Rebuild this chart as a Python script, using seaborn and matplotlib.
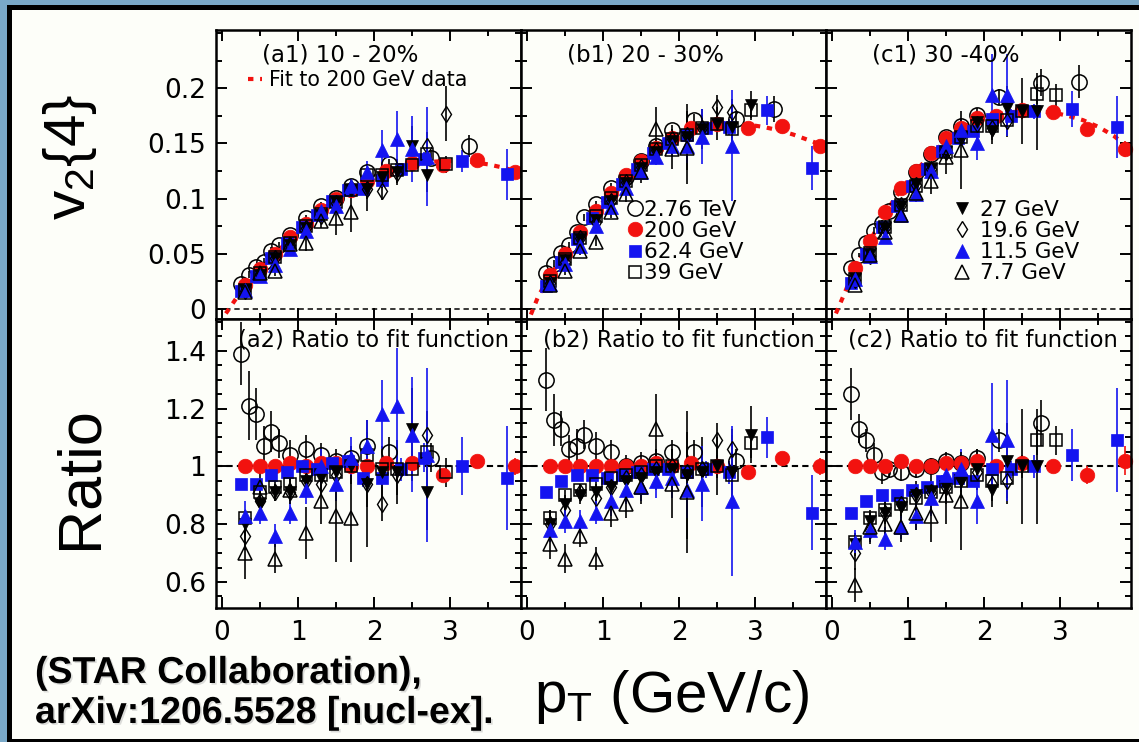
import numpy as np
import matplotlib
matplotlib.use("Agg")
import matplotlib.pyplot as plt
import matplotlib.patheffects as pe
from matplotlib.lines import Line2D
from matplotlib.patches import Rectangle
from matplotlib.ticker import MultipleLocator
import seaborn as sns

nan = np.nan

# ---- data (one inner list per centrality: 10-20, 20-30, 30-40 %) ----
panel_top = ["(a1) 10 - 20%", "(b1) 20 - 30%", "(c1) 30 -40%"]
panel_bot = ["(a2) Ratio to fit function", "(b2) Ratio to fit function", "(c2) Ratio to fit function"]

x_ticks = [0, 1, 2, 3]
x_tick_labels = ["0", "1", "2", "3"]
v2_ticks = [0, 0.05, 0.1, 0.15, 0.2]
v2_tick_labels = ["0", "0.05", "0.1", "0.15", "0.2"]
ratio_ticks = [0.6, 0.8, 1.0, 1.2, 1.4]
ratio_tick_labels = ["0.6", "0.8", "1", "1.2", "1.4"]

# fit to 200 GeV data
pt_fit = [0.05, 0.15, 0.3, 0.5, 0.7, 0.9, 1.1, 1.3, 1.5, 1.7, 1.9, 2.1, 2.3, 2.5, 2.7, 2.9, 3.1, 3.3, 3.5, 3.7, 3.9]
fit_v2 = [
    [-0.004, 0.006, 0.021, 0.036, 0.050, 0.064, 0.077, 0.089, 0.099, 0.108, 0.116, 0.122, 0.127, 0.131, 0.133, 0.134, 0.134, 0.133, 0.131, 0.128, 0.124],
    [-0.005, 0.012, 0.030, 0.050, 0.070, 0.089, 0.105, 0.120, 0.133, 0.145, 0.154, 0.161, 0.166, 0.168, 0.168, 0.167, 0.165, 0.162, 0.158, 0.153, 0.148],
    [-0.004, 0.012, 0.037, 0.062, 0.087, 0.108, 0.125, 0.140, 0.153, 0.164, 0.171, 0.175, 0.178, 0.179, 0.179, 0.178, 0.175, 0.171, 0.165, 0.157, 0.146],
]

# 2.76 TeV
pt_lhc = [0.25, 0.35, 0.45, 0.55, 0.65, 0.75, 0.9, 1.1, 1.3, 1.5, 1.7, 1.9, 2.2, 2.75, 3.25]
lhc_v2 = [
    [0.023, 0.031, 0.038, 0.043, 0.053, 0.058, 0.067, 0.082, 0.093, 0.101, 0.111, 0.124, 0.131, 0.137, 0.148],
    [0.033, 0.041, 0.051, 0.058, 0.070, 0.083, 0.095, 0.110, 0.120, 0.134, 0.148, 0.162, 0.171, 0.172, 0.181],
    [0.037, 0.049, 0.060, 0.071, 0.078, 0.089, 0.106, 0.124, 0.140, 0.156, 0.166, 0.176, 0.192, 0.205, 0.206],
]
lhc_v2_err = [
    [0.002, 0.003, 0.003, 0.003, 0.003, 0.003, 0.003, 0.003, 0.004, 0.004, 0.004, 0.005, 0.005, 0.007, 0.010],
    [0.002, 0.003, 0.003, 0.003, 0.003, 0.003, 0.003, 0.004, 0.004, 0.004, 0.005, 0.005, 0.006, 0.007, 0.012],
    [0.002, 0.002, 0.002, 0.003, 0.003, 0.003, 0.003, 0.004, 0.004, 0.005, 0.005, 0.006, 0.007, 0.012, 0.015],
]
lhc_ratio = [
    [1.39, 1.21, 1.18, 1.07, 1.12, 1.08, 1.04, 1.06, 1.04, 1.02, 1.03, 1.07, 1.05, 1.03, nan],
    [1.30, 1.16, 1.13, 1.06, 1.07, 1.11, 1.07, 1.05, 1.00, 1.01, 1.02, 1.05, 1.05, 1.02, nan],
    [1.25, 1.13, 1.09, 1.04, 0.98, 0.99, 0.98, 0.99, 1.00, 1.02, 1.01, 1.03, 1.09, 1.15, nan],
]
lhc_ratio_err = [
    [0.11, 0.12, 0.09, 0.07, 0.07, 0.05, 0.05, 0.05, 0.04, 0.04, 0.04, 0.05, 0.05, 0.05, nan],
    [0.11, 0.09, 0.06, 0.05, 0.06, 0.05, 0.05, 0.04, 0.04, 0.04, 0.04, 0.04, 0.04, 0.04, nan],
    [0.09, 0.05, 0.04, 0.04, 0.04, 0.03, 0.03, 0.03, 0.03, 0.03, 0.03, 0.03, 0.04, 0.08, nan],
]

# 200 GeV
pt_200 = [0.3, 0.5, 0.7, 0.9, 1.1, 1.3, 1.5, 1.7, 1.9, 2.15, 2.5, 2.9, 3.35, 3.85]
s200_v2 = [
    [0.022, 0.036, 0.050, 0.065, 0.077, 0.090, 0.100, 0.108, 0.116, 0.125, 0.132, 0.130, 0.135, 0.124],
    [0.031, 0.050, 0.070, 0.089, 0.105, 0.121, 0.134, 0.146, 0.155, 0.164, 0.168, 0.164, 0.166, 0.148],
    [0.037, 0.062, 0.088, 0.110, 0.125, 0.141, 0.155, 0.164, 0.173, 0.175, 0.180, 0.178, 0.163, 0.145],
]
s200_v2_err = [
    [0.001] * 11 + [0.002, 0.003, 0.004],
    [0.001] * 11 + [0.002, 0.003, 0.004],
    [0.001] * 11 + [0.002, 0.005, 0.007],
]
s200_ratio = [
    [1.0, 1.0, 1.0, 1.01, 1.0, 1.01, 1.01, 1.0, 1.0, 1.01, 1.01, 0.97, 1.02, 1.0],
    [1.0, 1.0, 1.0, 1.0, 1.0, 1.0, 1.0, 1.01, 1.0, 1.01, 1.0, 0.98, 1.03, 1.0],
    [1.0, 1.0, 1.0, 1.02, 1.0, 1.0, 1.01, 1.01, 1.02, 1.0, 1.01, 1.0, 0.97, 1.02],
]
s200_ratio_err = [
    [0.005] * 11 + [0.01, 0.02, 0.03],
    [0.005] * 11 + [0.01, 0.02, 0.03],
    [0.005] * 11 + [0.01, 0.03, 0.05],
]

# 62.4 GeV
pt_624 = [0.25, 0.45, 0.65, 0.85, 1.05, 1.25, 1.45, 1.65, 1.85, 2.1, 2.35, 2.65, 3.15, 3.75]
s624_v2 = [
    [0.016, 0.030, 0.046, 0.060, 0.074, 0.085, 0.098, 0.108, 0.109, 0.117, 0.127, 0.136, 0.134, 0.122],
    [0.021, 0.043, 0.063, 0.082, 0.097, 0.113, 0.127, 0.141, 0.150, 0.158, 0.164, 0.165, 0.180, 0.128],
    [0.024, 0.050, 0.074, 0.093, 0.111, 0.127, 0.143, 0.155, 0.161, 0.172, 0.175, 0.179, 0.181, 0.165],
]
s624_v2_err = [
    [0.001, 0.001, 0.001, 0.001, 0.001, 0.002, 0.002, 0.002, 0.003, 0.004, 0.005, 0.006, 0.010, 0.023],
    [0.001, 0.001, 0.001, 0.001, 0.001, 0.002, 0.002, 0.003, 0.003, 0.004, 0.005, 0.007, 0.013, 0.020],
    [0.001, 0.001, 0.001, 0.001, 0.002, 0.002, 0.002, 0.003, 0.003, 0.005, 0.006, 0.007, 0.016, 0.028],
]
s624_ratio = [
    [0.94, 0.94, 0.97, 0.98, 1.0, 0.99, 1.01, 1.02, 0.96, 0.96, 0.99, 1.03, 1.0, 0.96],
    [0.91, 0.95, 0.97, 0.97, 0.96, 0.97, 0.98, 0.99, 0.99, 0.98, 0.99, 0.98, 1.10, 0.84],
    [0.84, 0.88, 0.90, 0.90, 0.92, 0.93, 0.95, 0.96, 0.95, 0.99, 0.99, 1.0, 1.04, 1.09],
]
s624_ratio_err = [
    [0.01, 0.01, 0.01, 0.01, 0.01, 0.02, 0.02, 0.02, 0.03, 0.03, 0.04, 0.05, 0.10, 0.18],
    [0.01, 0.01, 0.01, 0.01, 0.01, 0.01, 0.02, 0.02, 0.02, 0.03, 0.03, 0.04, 0.07, 0.13],
    [0.01, 0.01, 0.01, 0.01, 0.01, 0.01, 0.02, 0.02, 0.02, 0.03, 0.03, 0.04, 0.09, 0.18],
]

# beam energy scan pT bins
pt_bes = [0.3, 0.5, 0.7, 0.9, 1.1, 1.3, 1.5, 1.7, 1.9, 2.1, 2.3, 2.5, 2.7, 2.95]

# 39 GeV
s39_v2 = [
    [0.017, 0.033, 0.047, 0.060, 0.075, 0.086, 0.097, 0.108, 0.121, 0.121, 0.126, 0.130, 0.140, 0.131],
    [0.025, 0.045, 0.064, 0.084, 0.101, 0.116, 0.130, 0.145, 0.154, 0.158, 0.164, 0.168, 0.163, 0.180],
    [0.027, 0.051, 0.074, 0.094, 0.111, 0.127, 0.142, 0.156, 0.166, 0.166, 0.171, 0.179, 0.195, 0.194],
]
s39_v2_err = [
    [0.001, 0.001, 0.001, 0.001, 0.002, 0.002, 0.002, 0.003, 0.004, 0.004, 0.005, 0.006, 0.007, 0.008],
    [0.001, 0.001, 0.001, 0.002, 0.002, 0.002, 0.003, 0.003, 0.004, 0.005, 0.006, 0.007, 0.008, 0.009],
    [0.001, 0.001, 0.002, 0.002, 0.002, 0.003, 0.003, 0.004, 0.005, 0.005, 0.006, 0.007, 0.009, 0.010],
]
s39_ratio = [
    [0.82, 0.91, 0.93, 0.94, 0.97, 0.97, 0.98, 1.0, 1.04, 0.99, 0.99, 0.99, 1.05, 0.98],
    [0.82, 0.90, 0.92, 0.94, 0.96, 0.97, 0.98, 1.0, 1.0, 0.98, 0.99, 1.0, 0.97, 1.08],
    [0.74, 0.82, 0.85, 0.87, 0.89, 0.91, 0.93, 0.95, 0.97, 0.95, 0.96, 1.0, 1.09, 1.09],
]
s39_ratio_err = [
    [0.03, 0.02, 0.02, 0.02, 0.02, 0.02, 0.02, 0.03, 0.03, 0.03, 0.04, 0.04, 0.05, 0.05],
    [0.03, 0.02, 0.02, 0.02, 0.02, 0.02, 0.02, 0.03, 0.03, 0.03, 0.04, 0.04, 0.05, 0.05],
    [0.03, 0.02, 0.02, 0.02, 0.02, 0.02, 0.02, 0.03, 0.03, 0.03, 0.04, 0.04, 0.05, 0.05],
]

# 27 GeV
s27_v2 = [
    [0.017, 0.031, 0.046, 0.058, 0.073, 0.085, 0.097, 0.108, 0.109, 0.120, 0.124, 0.148, 0.121, nan],
    [0.024, 0.044, 0.063, 0.081, 0.098, 0.114, 0.128, 0.142, 0.152, 0.156, 0.163, 0.168, 0.165, 0.185],
    [0.027, 0.050, 0.073, 0.093, 0.113, 0.127, 0.142, 0.156, 0.169, 0.161, 0.182, 0.179, 0.179, nan],
]
s27_v2_err = [
    [0.002, 0.002, 0.002, 0.003, 0.003, 0.003, 0.004, 0.005, 0.020, 0.010, 0.012, 0.018, 0.015, nan],
    [0.002, 0.002, 0.002, 0.003, 0.003, 0.004, 0.005, 0.006, 0.008, 0.030, 0.018, 0.015, 0.020, 0.012],
    [0.002, 0.002, 0.003, 0.004, 0.005, 0.006, 0.007, 0.008, 0.010, 0.012, 0.020, 0.030, 0.035, nan],
]
s27_ratio = [
    [0.80, 0.87, 0.91, 0.91, 0.95, 0.96, 0.98, 1.0, 0.94, 0.98, 0.98, 1.13, 0.91, nan],
    [0.80, 0.87, 0.90, 0.91, 0.93, 0.95, 0.96, 0.98, 0.99, 0.97, 0.98, 1.0, 0.98, 1.11],
    [0.73, 0.81, 0.84, 0.86, 0.90, 0.91, 0.93, 0.95, 0.99, 0.92, 1.02, 1.0, 1.0, nan],
]
s27_ratio_err = [
    [0.04, 0.03, 0.03, 0.03, 0.03, 0.04, 0.05, 0.06, 0.22, 0.09, 0.11, 0.14, 0.13, nan],
    [0.04, 0.03, 0.03, 0.03, 0.04, 0.04, 0.05, 0.06, 0.07, 0.22, 0.12, 0.10, 0.13, 0.10],
    [0.04, 0.04, 0.04, 0.04, 0.05, 0.06, 0.06, 0.06, 0.07, 0.06, 0.13, 0.20, 0.20, nan],
]

# 19.6 GeV
s196_v2 = [
    [0.016, 0.032, 0.046, 0.058, 0.073, 0.084, 0.096, 0.110, 0.109, 0.107, 0.123, nan, 0.148, 0.177],
    [0.024, 0.043, 0.064, 0.079, 0.098, 0.115, 0.129, 0.144, 0.154, 0.158, 0.164, 0.183, 0.178, nan],
    [0.026, 0.048, 0.073, 0.094, 0.112, 0.127, 0.142, 0.157, 0.168, 0.164, 0.170, nan, nan, nan],
]
s196_v2_err = [
    [0.002, 0.002, 0.002, 0.002, 0.003, 0.003, 0.004, 0.005, 0.009, 0.008, 0.009, nan, 0.012, 0.025],
    [0.002, 0.002, 0.002, 0.003, 0.003, 0.004, 0.005, 0.007, 0.009, 0.010, 0.012, 0.011, 0.012, nan],
    [0.002, 0.003, 0.003, 0.004, 0.005, 0.006, 0.007, 0.008, 0.010, 0.011, 0.014, nan, nan, nan],
]
s196_ratio = [
    [0.76, 0.88, 0.91, 0.91, 0.95, 0.94, 0.97, 1.02, 0.94, 0.87, 0.97, nan, 1.11, nan],
    [0.80, 0.85, 0.91, 0.89, 0.93, 0.96, 0.97, 0.99, 1.0, 0.98, 0.99, 1.09, 1.06, nan],
    [0.70, 0.78, 0.84, 0.87, 0.90, 0.91, 0.93, 0.96, 0.98, 0.94, 0.95, nan, nan, nan],
]
s196_ratio_err = [
    [0.05, 0.03, 0.03, 0.03, 0.03, 0.04, 0.04, 0.05, 0.08, 0.06, 0.07, nan, 0.08, nan],
    [0.05, 0.04, 0.03, 0.03, 0.03, 0.04, 0.04, 0.05, 0.06, 0.06, 0.07, 0.06, 0.07, nan],
    [0.06, 0.05, 0.04, 0.04, 0.04, 0.04, 0.05, 0.05, 0.06, 0.06, 0.08, nan, nan, nan],
]

# 11.5 GeV
s115_v2 = [
    [0.017, 0.030, 0.040, 0.054, 0.071, 0.089, 0.093, 0.111, 0.124, 0.144, 0.154, 0.145, 0.138, nan],
    [0.023, 0.041, 0.057, 0.075, 0.092, 0.110, 0.124, 0.138, 0.148, 0.148, 0.156, nan, 0.148, nan],
    [0.027, 0.048, 0.065, 0.085, 0.104, 0.125, 0.148, 0.162, 0.150, 0.194, 0.194, nan, nan, nan],
]
s115_v2_err = [
    [0.002, 0.002, 0.003, 0.003, 0.004, 0.005, 0.006, 0.007, 0.010, 0.018, 0.025, 0.030, 0.045, nan],
    [0.002, 0.002, 0.003, 0.004, 0.005, 0.006, 0.007, 0.008, 0.010, 0.016, 0.025, nan, 0.050, nan],
    [0.002, 0.003, 0.003, 0.004, 0.006, 0.007, 0.009, 0.011, 0.015, 0.037, 0.037, nan, nan, nan],
]
s115_ratio = [
    [0.83, 0.84, 0.76, 0.84, 0.92, 1.0, 0.94, 1.03, 1.07, 1.18, 1.21, 1.11, 1.04, nan],
    [0.78, 0.81, 0.81, 0.84, 0.88, 0.92, 0.93, 0.95, 0.96, 0.92, 0.94, nan, 0.88, nan],
    [0.74, 0.78, 0.75, 0.79, 0.83, 0.89, 0.97, 0.99, 0.88, 1.11, 1.09, nan, nan, nan],
]
s115_ratio_err = [
    [0.05, 0.04, 0.04, 0.04, 0.05, 0.06, 0.06, 0.07, 0.09, 0.12, 0.20, 0.20, 0.30, nan],
    [0.04, 0.04, 0.04, 0.04, 0.05, 0.05, 0.05, 0.06, 0.07, 0.10, 0.13, nan, 0.26, nan],
    [0.04, 0.04, 0.04, 0.04, 0.05, 0.06, 0.06, 0.07, 0.08, 0.18, 0.21, nan, nan, nan],
]

# 7.7 GeV
s77_v2 = [
    [0.015, 0.033, 0.034, 0.059, 0.060, 0.080, 0.082, 0.088, nan, nan, nan, nan, nan, nan],
    [0.022, 0.034, 0.053, 0.061, 0.088, 0.104, 0.124, 0.163, 0.145, 0.146, nan, nan, nan, nan],
    [0.022, 0.049, 0.070, 0.085, 0.105, 0.116, 0.138, 0.144, nan, nan, nan, nan, nan, nan],
]
s77_v2_err = [
    [0.003, 0.003, 0.004, 0.004, 0.007, 0.007, 0.015, 0.018, nan, nan, nan, nan, nan, nan],
    [0.003, 0.003, 0.004, 0.004, 0.006, 0.007, 0.010, 0.020, 0.018, 0.033, nan, nan, nan, nan],
    [0.003, 0.004, 0.005, 0.006, 0.008, 0.012, 0.016, 0.035, nan, nan, nan, nan, nan, nan],
]
s77_ratio = [
    [0.70, 0.93, 0.68, 0.92, 0.77, 0.88, 0.83, 0.82, nan, nan, nan, nan, nan, nan],
    [0.73, 0.68, 0.76, 0.68, 0.84, 0.87, 0.93, 1.13, 0.94, 0.91, nan, nan, nan, nan],
    [0.59, 0.79, 0.80, 0.79, 0.84, 0.83, 0.90, 0.88, nan, nan, nan, nan, nan, nan],
]
s77_ratio_err = [
    [0.09, 0.05, 0.05, 0.05, 0.09, 0.08, 0.16, 0.15, nan, nan, nan, nan, nan, nan],
    [0.05, 0.05, 0.04, 0.04, 0.05, 0.05, 0.06, 0.12, 0.12, 0.21, nan, nan, nan, nan],
    [0.06, 0.05, 0.05, 0.05, 0.06, 0.09, 0.10, 0.17, nan, nan, nan, nan, nan, nan],
]

# ---- styling ----
RED = "#f2120f"
BLUE = "#1414f0"
BG = "#fdfef9"

series = [
    ("2.76 TeV", pt_lhc, lhc_v2, lhc_v2_err, lhc_ratio, lhc_ratio_err,
     dict(marker="o", ms=11, mfc="none", mec="black", mew=1.1, ecolor="black")),
    ("200 GeV", pt_200, s200_v2, s200_v2_err, s200_ratio, s200_ratio_err,
     dict(marker="o", ms=10.5, mfc=RED, mec=RED, mew=0.5, ecolor=RED)),
    ("62.4 GeV", pt_624, s624_v2, s624_v2_err, s624_ratio, s624_ratio_err,
     dict(marker="s", ms=8.5, mfc=BLUE, mec=BLUE, mew=0.5, ecolor=BLUE)),
    ("39 GeV", pt_bes, s39_v2, s39_v2_err, s39_ratio, s39_ratio_err,
     dict(marker="s", ms=8.5, mfc="none", mec="black", mew=1.1, ecolor="black")),
    ("27 GeV", pt_bes, s27_v2, s27_v2_err, s27_ratio, s27_ratio_err,
     dict(marker="v", ms=8, mfc="black", mec="black", mew=0.5, ecolor="black")),
    ("19.6 GeV", pt_bes, s196_v2, s196_v2_err, s196_ratio, s196_ratio_err,
     dict(marker="d", ms=8.5, mfc="none", mec="black", mew=1.0, ecolor="black")),
    ("11.5 GeV", pt_bes, s115_v2, s115_v2_err, s115_ratio, s115_ratio_err,
     dict(marker="^", ms=9.5, mfc=BLUE, mec=BLUE, mew=0.5, ecolor=BLUE)),
    ("7.7 GeV", pt_bes, s77_v2, s77_v2_err, s77_ratio, s77_ratio_err,
     dict(marker="^", ms=10, mfc="none", mec="black", mew=1.1, ecolor="black")),
]

sns.set_theme(style="ticks", rc={"axes.edgecolor": "black", "xtick.color": "black",
                                 "ytick.color": "black", "text.color": "black",
                                 "axes.facecolor": BG})
plt.rcParams["font.family"] = ["DejaVu Sans"]
plt.rcParams["mathtext.fontset"] = "custom"
plt.rcParams["mathtext.rm"] = "Liberation Sans"
plt.rcParams["mathtext.it"] = "Liberation Sans"

fig, axes = plt.subplots(2, 3, figsize=(11.39, 7.42), dpi=100)
fig.subplots_adjust(left=0.1896, right=0.993, top=0.9596, bottom=0.1806, wspace=0, hspace=0)

# slide frame
fig.patch.set_facecolor("#7aa9c8")
fig.patches.append(Rectangle((7 / 1139, 0), 1, 1 - 5 / 742, transform=fig.transFigure,
                             fc="black", ec="none", zorder=-20))
fig.patches.append(Rectangle((12 / 1139, 3 / 742), 1, 1 - 13 / 742, transform=fig.transFigure,
                             fc=BG, ec="none", zorder=-19))

fit_ls = (0, (1.3, 1.6))

for i in range(3):
    top = axes[0, i]
    bot = axes[1, i]

    # fit line and reference lines
    sns.lineplot(x=pt_fit, y=fit_v2[i], ax=top, color=RED, lw=3, linestyle=fit_ls,
                 estimator=None, sort=False, legend=False, zorder=2)
    top.axhline(0, color="black", lw=1.1, ls=(0, (3.5, 2.5)), zorder=1)
    bot.axhline(1, color="black", lw=1.5, ls=(0, (3, 2)), zorder=1)

    for name, pt, v2, v2e, rat, rate, st in series:
        kw = dict(st)
        ecolor = kw.pop("ecolor")
        top.errorbar(pt, v2[i], yerr=v2e[i], ls="none", ecolor=ecolor, elinewidth=1.2,
                     capsize=0, clip_on=False, zorder=3, **kw)
        bot.errorbar(pt, rat[i], yerr=rate[i], ls="none", ecolor=ecolor, elinewidth=1.2,
                     capsize=0, clip_on=False, zorder=3, **kw)

    top.set_ylim(-0.009, 0.2527)
    bot.set_ylim(0.51, 1.51)
    top.set_yticks(v2_ticks, labels=v2_tick_labels)
    bot.set_yticks(ratio_ticks, labels=ratio_tick_labels)
    top.yaxis.set_minor_locator(MultipleLocator(0.025))
    bot.yaxis.set_minor_locator(MultipleLocator(0.05))

    for ax in (top, bot):
        ax.set_xlim(-0.08, 3.93)
        ax.set_xticks(x_ticks, labels=x_tick_labels)
        ax.xaxis.set_minor_locator(MultipleLocator(0.5))
        ax.set_facecolor(BG)
        ax.tick_params(which="both", direction="in", top=True, right=True, width=1.4,
                       labelsize=19)
        ax.tick_params(which="major", length=8)
        ax.tick_params(which="minor", length=4.5)
        ax.tick_params(axis="y", pad=7)
        ax.tick_params(axis="x", pad=9)
        for s in ax.spines.values():
            s.set_linewidth(1.8)
            s.set_zorder(5)
        if i > 0:
            ax.tick_params(labelleft=False)
    top.tick_params(labelbottom=False)

    top.text(0.151, 0.913, panel_top[i], transform=top.transAxes, fontsize=16.5,
             ha="left", va="center")
    bot.text(0.073, 0.927, panel_bot[i], transform=bot.transAxes, fontsize=16.3,
             ha="left", va="center")

# legends
fit_handle = Line2D([], [], color=RED, lw=3, ls=fit_ls)
axes[0, 0].legend([fit_handle], ["Fit to 200 GeV data"], loc="upper left",
                  bbox_to_anchor=(0.105, 0.862), frameon=False, fontsize=14.8,
                  handlelength=0.7, handletextpad=0.3, borderpad=0, borderaxespad=0)

handles = []
for name, pt, v2, v2e, rat, rate, st in series:
    kw = dict(st)
    kw.pop("ecolor")
    handles.append(Line2D([], [], ls="none", **kw))

axes[0, 1].legend(handles[:4], [s[0] for s in series[:4]], loc="upper left",
                  bbox_to_anchor=(0.357, 0.412), frameon=False, fontsize=15.5,
                  handlelength=0.5, handletextpad=0.15, labelspacing=0.05,
                  borderpad=0, borderaxespad=0, numpoints=1)
axes[0, 2].legend(handles[4:], [s[0] for s in series[4:]], loc="upper left",
                  bbox_to_anchor=(0.416, 0.412), frameon=False, fontsize=15.5,
                  handlelength=0.8, handletextpad=0.45, labelspacing=0.05,
                  borderpad=0, borderaxespad=0, numpoints=1)

# axis titles
fig.text(70 / 1139, 1 - 157 / 742, r"v$_{\rm 2}${4}", rotation=90, ha="center", va="center",
         fontsize=42, family="Liberation Sans")
fig.text(81 / 1139, 1 - 478 / 742, "Ratio", rotation=90, ha="center", va="center",
         fontsize=44, family="Liberation Sans")
fig.text(672 / 1139, 1 - 697 / 742, r"p$_{\rm T}$ (GeV/c)", ha="center", va="center",
         fontsize=42, family="Liberation Sans")

# reference note
shadow = [pe.withSimplePatchShadow(offset=(1.2, -1.2), shadow_rgbFace="0.7", alpha=0.45)]
fig.text(35 / 1139, 1 - 683 / 742, "(STAR Collaboration),", ha="left", va="baseline",
         fontsize=27, family="Liberation Sans", weight="bold", path_effects=shadow)
fig.text(35 / 1139, 1 - 723 / 742, "arXiv:1206.5528 [nucl-ex].", ha="left", va="baseline",
         fontsize=27, family="Liberation Sans", weight="bold", path_effects=shadow)

fig.savefig("out.png", dpi=100, facecolor=fig.get_facecolor())
